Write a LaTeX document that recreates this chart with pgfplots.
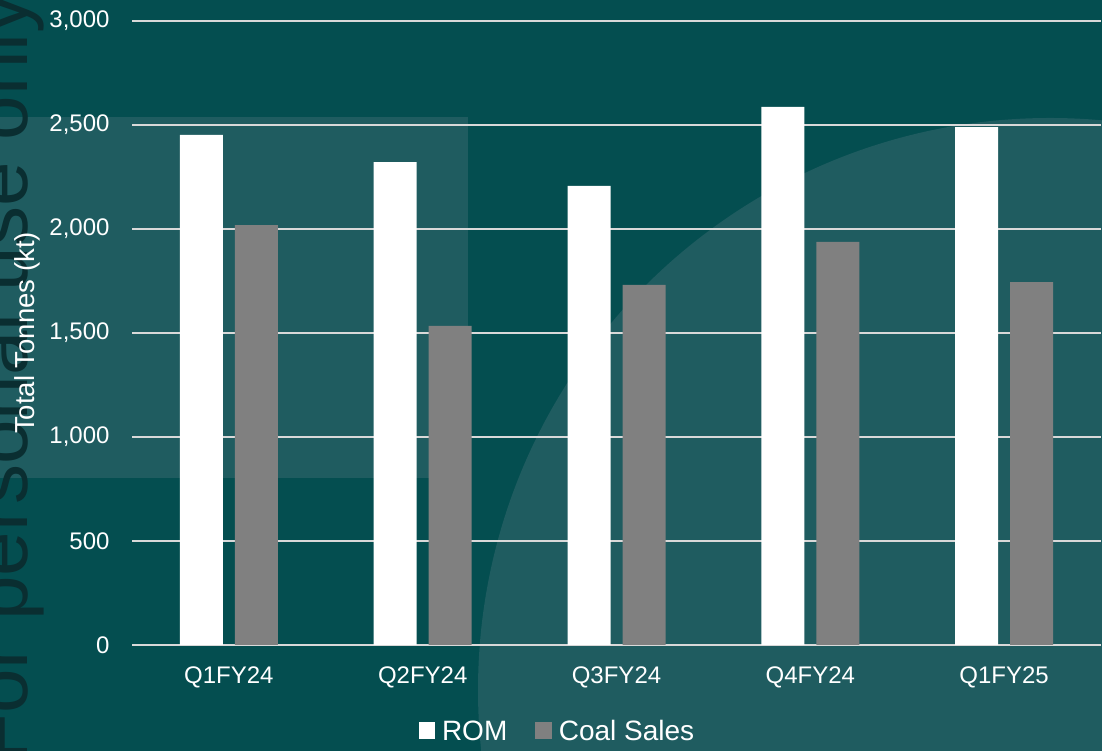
\documentclass[border=0pt]{standalone}
\usepackage{fontspec}
\setmainfont{Liberation Sans}
\usepackage{pgfplots}
\pgfplotsset{compat=1.18}
\definecolor{bgdark}{HTML}{044E50}
\definecolor{bglight}{HTML}{1F5C60}
\definecolor{wm}{HTML}{0A2E31}
\definecolor{gridc}{HTML}{D9D9D9}
\definecolor{barg}{HTML}{808080}
\begin{document}
\begin{tikzpicture}
\useasboundingbox (0,0) rectangle (1102pt,751pt);
\begin{scope}
\clip (0,0) rectangle (1102pt,751pt);
\fill[bgdark] (0,0) rectangle (1102pt,751pt);
\fill[bglight] (0,273pt) rectangle (468pt,634pt);
\fill[bglight] (1050pt,61pt) circle (572pt);
\node[rotate=90, anchor=base, text=wm, font=\fontsize{80}{90}\selectfont, inner sep=0pt] at (28pt,373pt) {For personal use only};
\end{scope}
\begin{axis}[
  at={(132pt,106pt)}, anchor=south west,
  width=969pt, height=624pt, scale only axis,
  ybar=12pt, bar width=43pt,
  xmin=-0.5, xmax=4.5, ymin=0, ymax=3000,
  xtick=data, xticklabels={Q1FY24,Q2FY24,Q3FY24,Q4FY24,Q1FY25},
  ytick={0,500,1000,1500,2000,2500,3000},
  ymajorgrids, grid style={gridc, line width=1.5pt},
  axis line style={draw=none},
  tick style={draw=none},
  /pgf/number format/1000 sep={,},
  /pgf/number format/assume math mode=true,
  ticklabel style={text=white, font=\fontsize{24}{28}\selectfont},
  yticklabel style={xshift=-19pt},
  xticklabel style={yshift=-14pt},
  ylabel={Total Tonnes (kt)},
  ylabel style={at={(rel axis cs:-0.1084,0.5)}, anchor=center, text=white, font=\fontsize{27.5}{32}\selectfont},
  legend style={at={(rel axis cs:0.439,-0.138)}, anchor=center, draw=none, fill=none, text=white,
    font=\fontsize{28}{33}\selectfont, legend columns=2,
    /tikz/every odd column/.style={column sep=5pt},
    /tikz/every even column/.style={column sep=26pt}},
  legend image code/.code={\fill[#1] (0pt,-7.5pt) rectangle (16.5pt,9pt);},
]
\addplot[fill=white, draw=none] coordinates {(0,2452) (1,2322) (2,2207) (3,2587) (4,2490)};
\addplot[fill=barg, draw=none] coordinates {(0,2019) (1,1534) (2,1731) (3,1938) (4,1745)};
\legend{ROM, Coal Sales}
\end{axis}
\end{tikzpicture}
\end{document}
